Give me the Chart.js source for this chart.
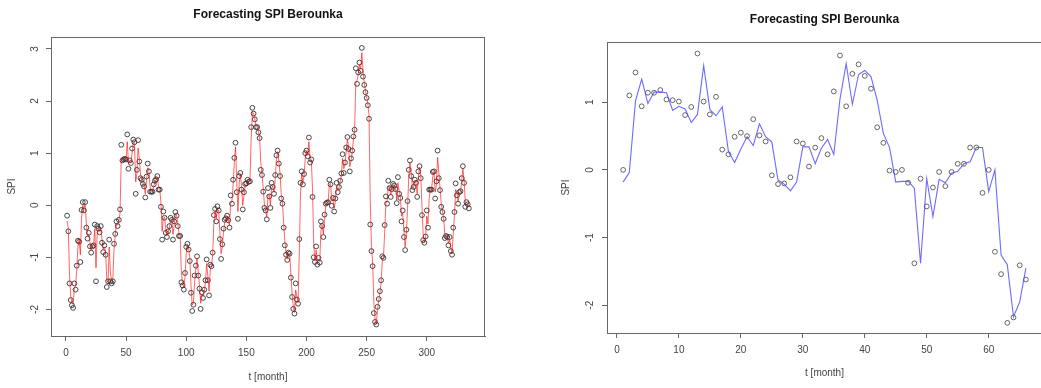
<!DOCTYPE html>
<html lang="en">
<head>
<meta charset="UTF-8">
<title>Forecasting SPI Berounka</title>
<script src="https://cdn.jsdelivr.net/npm/chart.js@4"></script>
<style>
  html, body { margin: 0; padding: 0; background: #fff; overflow: hidden; }
  .panel { position: absolute; top: 0; }
  #leftPanel { left: 0; }
  #rightPanel { left: 540px; }
</style>
</head>
<body>
<div class="panel" id="leftPanel"><canvas id="fitChart" width="540" height="388"></canvas></div>
<div class="panel" id="rightPanel"><canvas id="testChart" width="510" height="388"></canvas></div>

<script>
// ---- data ----
const chartTitle = 'Forecasting SPI Berounka';
const xTitle = 't [month]';
const yTitle = 'SPI';

// whole record: observed SPI and model output, months 1..335
const fitMonths = Array.from({ length: 335 }, (_, i) => i + 1);
const fitObserved = [
  -0.20,-0.50,-1.50,-1.82,-1.92,-1.97,-1.50,-1.62,-1.16,-0.68,-0.70,-1.09,-0.09,0.06,-0.10,0.06,-0.43,-0.64,-0.53,-0.79,
  -0.91,-0.79,-0.77,-0.37,-1.46,-0.40,-0.45,-0.52,-0.40,-0.72,-0.90,-0.77,-0.95,-1.57,-1.46,-0.66,-1.46,-1.50,-1.46,-0.74,
  -0.55,-0.31,-0.40,-0.28,-0.08,1.16,0.86,0.88,0.89,0.88,1.36,0.70,0.86,0.81,1.09,1.26,1.21,0.22,0.68,1.25,
  0.84,0.52,0.49,0.41,0.36,0.15,0.55,0.80,0.65,0.26,0.26,0.26,0.40,0.47,0.50,0.56,0.30,0.30,-0.03,-0.66,
  -0.12,-0.24,-0.53,-0.61,-0.50,-0.40,-0.24,-0.28,-0.66,-0.31,-0.13,-0.20,-0.40,-0.59,-0.59,-1.48,-1.54,-1.62,-1.30,-0.80,
  -0.74,-0.85,-1.07,-1.68,-2.03,-1.91,-1.35,-1.16,-0.98,-1.35,-1.60,-1.99,-1.67,-1.78,-1.62,-1.44,-1.04,-1.44,-1.73,-1.14,
  -1.17,-0.91,-0.19,-0.07,-0.31,-0.02,-0.10,-0.65,-1.03,-0.75,-0.45,-0.28,-0.25,-0.20,-0.29,-0.43,0.19,0.03,0.49,0.91,
  1.20,0.25,-0.26,0.56,0.62,0.30,-0.08,0.25,0.41,0.42,0.49,0.45,0.46,1.50,1.87,1.76,1.65,1.50,1.50,1.40,
  1.29,0.68,0.58,0.26,-0.05,-0.10,-0.27,0.33,0.17,-0.05,0.43,0.35,0.22,0.58,0.96,1.05,0.80,0.56,0.13,0.03,
  -0.43,-0.77,-0.95,-1.05,-0.91,-0.93,-1.39,-1.76,-1.99,-2.08,-1.50,-1.81,-1.89,-0.65,0.43,0.65,0.40,0.60,1.00,1.05,
  0.94,1.30,0.82,0.88,0.16,-1.00,-1.09,-0.79,-1.14,-1.01,-1.10,-0.31,-0.40,-0.61,-0.18,0.03,0.05,0.06,0.49,0.40,
  -0.01,0.14,-0.12,0.13,0.43,0.25,0.35,0.47,0.61,0.98,0.62,0.82,1.11,1.31,1.08,0.65,0.90,1.05,1.32,1.45,
  2.63,2.33,2.55,2.74,2.58,3.02,2.47,2.31,2.17,2.06,1.92,1.66,-0.37,-0.88,-1.17,-2.07,-2.24,-2.29,-1.95,-1.80,
  -1.65,-1.44,-0.98,-1.01,-0.38,0.17,0.03,0.47,0.33,0.16,0.31,0.41,0.38,0.31,0.04,0.54,0.22,0.14,-0.31,-0.10,
  -0.61,-0.86,-0.47,0.08,0.68,0.86,0.56,0.29,0.35,0.49,0.43,0.16,0.65,0.75,0.52,-0.19,-0.67,-0.72,-0.60,-0.10,
  -0.43,0.30,0.30,0.30,0.64,0.65,0.13,0.46,1.05,0.52,0.29,-0.03,-0.13,-0.26,-0.63,-0.59,-0.61,-0.77,-0.61,-0.88,
  -0.95,-0.43,-0.13,0.42,0.19,0.03,0.25,0.27,0.52,0.75,0.43,-0.03,0.06,0.02,-0.06
];
const fitModel = [
  -0.30,-0.45,-1.35,-1.75,-1.88,-1.90,-1.60,-1.55,-1.25,-0.80,-0.65,-0.95,-0.25,0.00,-0.05,0.02,-0.35,-0.58,-0.55,-0.72,
  -0.86,-0.80,-0.76,-0.45,-1.20,-0.55,-0.45,-0.50,-0.44,-0.65,-0.85,-0.80,-0.90,-1.45,-1.48,-0.80,-1.30,-1.45,-1.42,-0.85,
  -0.58,-0.36,-0.38,-0.30,-0.15,0.90,0.90,0.86,0.88,0.88,1.22,0.82,0.82,0.82,1.00,1.20,1.20,0.45,0.60,1.10,
  0.90,0.60,0.50,0.43,0.38,0.22,0.48,0.72,0.66,0.35,0.27,0.27,0.36,0.45,0.49,0.54,0.36,0.30,0.05,-0.50,
  -0.25,-0.22,-0.45,-0.58,-0.52,-0.43,-0.29,-0.28,-0.56,-0.38,-0.18,-0.19,-0.35,-0.54,-0.59,-1.30,-1.50,-1.58,-1.38,-0.92,
  -0.76,-0.82,-1.02,-1.55,-1.92,-1.88,-1.48,-1.22,-1.03,-1.28,-1.52,-1.88,-1.72,-1.75,-1.65,-1.48,-1.12,-1.36,-1.65,-1.25,
  -1.16,-0.96,-0.35,-0.10,-0.26,-0.08,-0.09,-0.53,-0.93,-0.80,-0.52,-0.33,-0.26,-0.21,-0.27,-0.39,0.05,0.06,0.40,0.82,
  1.12,0.45,-0.12,0.40,0.60,0.36,0.00,0.18,0.37,0.42,0.47,0.46,0.46,1.28,1.78,1.77,1.67,1.53,1.50,1.42,
  1.31,0.82,0.60,0.33,0.02,-0.09,-0.23,0.20,0.20,0.00,0.33,0.37,0.25,0.50,0.88,1.03,0.86,0.61,0.23,0.05,
  -0.33,-0.69,-0.91,-1.03,-0.94,-0.93,-1.29,-1.68,-1.94,-2.06,-1.63,-1.74,-1.87,-0.92,0.20,0.60,0.45,0.56,0.91,1.04,
  0.96,1.22,0.92,0.87,0.32,-0.75,-1.07,-0.86,-1.06,-1.04,-1.08,-0.49,-0.38,-0.56,-0.27,-0.02,0.04,0.06,0.40,0.42,
  0.08,0.11,-0.06,0.08,0.36,0.29,0.33,0.45,0.58,0.90,0.70,0.78,1.05,1.27,1.13,0.74,0.85,1.02,1.26,1.42,
  2.37,2.39,2.50,2.70,2.61,2.93,2.59,2.35,2.20,2.08,1.95,1.72,0.08,-0.77,-1.11,-1.87,-2.20,-2.28,-2.02,-1.83,
  -1.68,-1.49,-1.08,-1.00,-0.52,0.05,0.06,0.37,0.36,0.20,0.28,0.39,0.39,0.33,0.10,0.43,0.29,0.16,-0.21,-0.15,
  -0.50,-0.80,-0.56,-0.06,0.54,0.82,0.63,0.35,0.34,0.46,0.44,0.22,0.54,0.73,0.57,-0.03,-0.56,-0.71,-0.63,-0.21,
  -0.36,0.14,0.30,0.30,0.56,0.65,0.25,0.39,0.92,0.64,0.34,0.04,-0.11,-0.23,-0.55,-0.60,-0.61,-0.73,-0.65,-0.82,
  -0.93,-0.55,-0.20,0.30,0.24,0.07,0.20,0.26,0.46,0.70,0.50,0.07,0.04,0.03,-0.04
];
const fitXTicks = [0, 50, 100, 150, 200, 250, 300];
const fitYTicks = [-2, -1, 0, 1, 2, 3];

// test period: months 1..66
const testMonths = Array.from({ length: 66 }, (_, i) => i + 1);
const testObserved = [
  0.00,1.10,1.44,0.94,1.14,1.14,1.18,1.04,1.03,1.01,
  0.81,0.93,1.72,1.01,0.82,1.08,0.30,0.23,0.49,0.55,
  0.50,0.75,0.51,0.42,-0.08,-0.21,-0.20,-0.11,0.42,0.39,
  0.05,0.33,0.47,0.23,1.16,1.69,0.94,1.42,1.56,1.39,
  1.20,0.63,0.40,-0.01,-0.03,0.00,-0.19,-1.38,-0.13,-0.54,
  -0.26,-0.03,-0.24,-0.03,0.09,0.09,0.33,0.33,-0.34,0.00,
  -1.21,-1.54,-2.26,-2.18,-1.41,-1.62
];
const testForecast = [
  -0.18,-0.04,1.02,1.34,0.98,1.15,1.15,1.14,0.88,0.94,
  0.90,0.70,0.82,1.54,0.89,0.80,0.93,0.27,0.11,0.31,
  0.49,0.36,0.68,0.49,0.41,-0.15,-0.21,-0.31,-0.18,0.34,
  0.34,0.09,0.32,0.45,0.23,1.05,1.57,0.97,1.41,1.47,
  1.38,1.03,0.54,0.33,-0.18,-0.17,-0.17,-0.27,-1.38,-0.13,
  -0.69,-0.14,-0.19,-0.05,-0.02,0.09,0.12,0.33,0.33,-0.32,
  0.00,-1.26,-1.40,-2.17,-1.95,-1.45
];
const testXTicks = [0, 10, 20, 30, 40, 50, 60];
const testYTicks = [-2, -1, 0, 1];

Chart.defaults.font.family = "'Liberation Sans', Arial, sans-serif";

// frame around the plotting region
const plotBox = {
  id: 'plotBox',
  afterDraw(chart) {
    const { ctx, chartArea: a } = chart;
    ctx.save();
    ctx.strokeStyle = '#666';
    ctx.lineWidth = 1;
    ctx.strokeRect(Math.round(a.left) + 0.5, Math.round(a.top) + 0.5,
      Math.round(a.right - a.left) - 1, Math.round(a.bottom - a.top));
    ctx.restore();
  }
};

function buildPanel(id, p) {
  const ctx = document.getElementById(id).getContext('2d');
  return new Chart(ctx, {
    type: 'line',
    data: {
      datasets: [
        {
          label: 'model',
          data: p.months.map((m, i) => ({ x: m, y: p.line[i] })),
          borderColor: p.lineColor,
          borderWidth: p.lineWidth,
          pointRadius: 0,
          tension: 0,
          order: 0
        },
        {
          label: 'observed',
          data: p.months.map((m, i) => ({ x: m, y: p.points[i] })),
          showLine: false,
          pointRadius: 2.4,
          pointBorderWidth: 0.9,
          pointBorderColor: p.pointColor,
          pointBackgroundColor: 'rgba(0,0,0,0)',
          order: 1
        }
      ]
    },
    options: {
      responsive: false,
      animation: false,
      events: [],
      layout: { padding: { left: 0, top: 0, bottom: 0, right: p.padRight } },
      plugins: {
        legend: { display: false },
        tooltip: { enabled: false },
        title: {
          display: true,
          text: chartTitle,
          fullSize: false,
          color: '#111',
          font: { size: 12, weight: 'bold' },
          padding: p.titlePad
        }
      },
      scales: {
        x: {
          type: 'linear',
          min: p.xMin,
          max: p.xMax,
          afterBuildTicks: s => { s.ticks = p.xTicks.map(v => ({ value: v })); },
          afterFit: s => { s.height = p.xAxisH; },
          grid: { drawOnChartArea: false, drawTicks: true, tickLength: 5, tickColor: '#666' },
          border: { display: true, color: '#666' },
          ticks: { autoSkip: false, maxRotation: 0, padding: 6, color: '#444',
                   font: { size: 10 }, callback: v => String(v) },
          title: { display: true, text: xTitle, color: '#444', font: { size: 10 },
                   padding: { top: 0, bottom: p.xTitlePad } }
        },
        y: {
          min: p.yMin,
          max: p.yMax,
          afterBuildTicks: s => { s.ticks = p.yTicks.map(v => ({ value: v })); },
          afterFit: s => { s.width = p.yAxisW; },
          grid: { drawOnChartArea: false, drawTicks: true, tickLength: 5, tickColor: '#666' },
          border: { display: true, color: '#666' },
          ticks: { autoSkip: false, minRotation: 90, maxRotation: 90, crossAlign: 'center',
                   padding: p.yTickPad, color: '#444', font: { size: 10 }, callback: v => String(v) },
          title: { display: true, text: yTitle, color: '#444', font: { size: 10 },
                   padding: { top: p.yTitlePad, bottom: 0 } }
        }
      }
    },
    plugins: [plotBox]
  });
}

buildPanel('fitChart', {
  months: fitMonths, points: fitObserved, line: fitModel,
  lineColor: 'rgba(255,0,0,0.6)', lineWidth: 1, pointColor: '#333',
  xMin: -12.4, xMax: 348.4, yMin: -2.51, yMax: 3.23,
  xTicks: fitXTicks, yTicks: fitYTicks,
  padRight: 55, yAxisW: 51, xAxisH: 52,
  titlePad: { top: 7, bottom: 15.6 }, xTitlePad: 4.3, yTitlePad: 6.7, yTickPad: 6.5
});

// this panel runs just past the right edge of the window
buildPanel('testChart', {
  months: testMonths, points: testObserved, line: testForecast,
  lineColor: 'rgba(70,70,255,0.8)', lineWidth: 1.1, pointColor: '#555',
  xMin: -1.6, xMax: 68.6, yMin: -2.41, yMax: 1.89,
  xTicks: testXTicks, yTicks: testYTicks,
  padRight: 8, yAxisW: 67, xAxisH: 55,
  titlePad: { top: 12.8, bottom: 14.8 }, xTitlePad: 9, yTitlePad: 20.7, yTickPad: 7.5
});
</script>
</body>
</html>
